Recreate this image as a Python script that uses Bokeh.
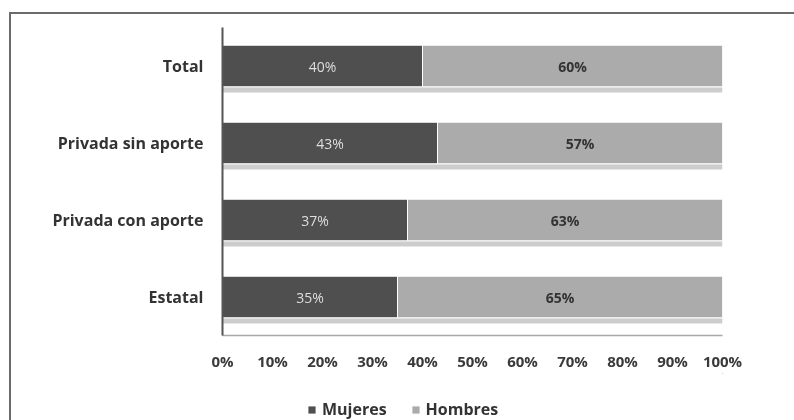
from bokeh.plotting import figure
from bokeh.layouts import column
from bokeh.models import (ColumnDataSource, Legend, LegendItem, FixedTicker,
                          Range1d, FactorRange)
from bokeh.transform import dodge
from bokeh.core.properties import value
from bokeh.embed import file_html
from bokeh.resources import INLINE

# ---- data (bottom to top) ----
categories = ["Estatal", "Privada con aporte", "Privada sin aporte", "Total"]
mujeres = [35, 37, 43, 40]
hombres = [65, 63, 57, 60]
series_names = ["Mujeres", "Hombres"]
x_ticks = [0, 10, 20, 30, 40, 50, 60, 70, 80, 90, 100]

FONT_NAME = "Open Sans"
FONT = value(FONT_NAME)
DARK = "#4f4f4f"
LIGHT = "#ababab"

totals = [m + h for m, h in zip(mujeres, hombres)]
src = ColumnDataSource(dict(
    cat=categories,
    muj=mujeres,
    hom=hombres,
    total=totals,
    muj_mid=[m / 2 for m in mujeres],
    hom_mid=[m + h / 2 for m, h in zip(mujeres, hombres)],
    muj_lbl=[f"{m}%" for m in mujeres],
    hom_lbl=[f"{h}%" for h in hombres],
))

p = figure(
    y_range=FactorRange(*categories),
    x_range=Range1d(0, 100),
    frame_width=500, frame_height=308,
    min_border_left=211, min_border_top=13,
    min_border_right=79, min_border_bottom=30,
    output_backend="svg", toolbar_location=None,
    background_fill_color="white", border_fill_color="white",
)

# floor/shadow strip under each bar (3-D look)
p.hbar(y=dodge("cat", -0.31, range=p.y_range), left=0, right="total",
       height=0.07, source=src, fill_color="#cdcdcd", line_color=None)

p.hbar(y="cat", left=0, right="muj", height=0.54, source=src,
       fill_color=DARK, line_color="white", line_width=1)
p.hbar(y="cat", left="muj", right="total", height=0.54, source=src,
       fill_color=LIGHT, line_color="white", line_width=1)

p.text(x="muj_mid", y="cat", text="muj_lbl", source=src,
       text_align="center", text_baseline="middle",
       text_font=FONT, text_font_size="14px", text_color="#dedede")
p.text(x="hom_mid", y="cat", text="hom_lbl", source=src,
       text_align="center", text_baseline="middle",
       text_font=FONT, text_font_size="14px", text_font_style="bold",
       text_color="#333333")

# axes
p.grid.visible = False
p.outline_line_color = None

p.xaxis.ticker = FixedTicker(ticks=x_ticks)
p.xaxis.major_label_overrides = {t: f"{t}%" for t in x_ticks}
p.xaxis.major_tick_line_color = None
p.xaxis.minor_tick_line_color = None
p.xaxis.axis_line_color = "#a8a8a8"
p.xaxis.axis_line_width = 1.5
p.xaxis.major_label_standoff = 9
p.xaxis.major_label_text_font = FONT_NAME
p.xaxis.major_label_text_font_size = "15px"
p.xaxis.major_label_text_font_style = "bold"
p.xaxis.major_label_text_color = "#3a3a3a"

p.yaxis.major_tick_line_color = None
p.yaxis.minor_tick_line_color = None
p.yaxis.axis_line_color = "#555555"
p.yaxis.axis_line_width = 2
p.yaxis.major_label_standoff = 13
p.yaxis.major_label_text_font = FONT_NAME
p.yaxis.major_label_text_font_size = "16px"
p.yaxis.major_label_text_font_style = "bold"
p.yaxis.major_label_text_color = "#333333"

# ---- legend strip (separate figure below the chart) ----
# its ranges keep the series' bars out of view; they only feed the legend swatches
leg = figure(width=790, height=60, x_axis_type=None, y_axis_type=None,
             x_range=Range1d(-3, -2), y_range=Range1d(-3, -2),
             min_border=0, output_backend="svg", toolbar_location=None,
             background_fill_color="white", border_fill_color="white")
leg.grid.visible = False
leg.outline_line_color = None
lm = leg.hbar(y="muj", left=0, right="muj", height=0.5, source=src,
              fill_color=DARK, line_color=None)
lh = leg.hbar(y="hom", left="muj", right="total", height=0.5, source=src,
              fill_color=LIGHT, line_color=None)

legend = Legend(
    items=[LegendItem(label=series_names[0], renderers=[lm]),
           LegendItem(label=series_names[1], renderers=[lh])],
    orientation="horizontal", location=(85, 13),
    padding=0, margin=0, spacing=24,
    glyph_width=9, glyph_height=9, label_standoff=6, label_height=16,
    label_text_font=FONT_NAME, label_text_font_size="16px",
    label_text_font_style="bold", label_text_color="#333333",
    border_line_color=None, background_fill_alpha=0,
)
leg.add_layout(legend)

layout = column(p, leg, spacing=0)
layout.styles = {
    "position": "fixed", "left": "9px", "top": "12px",
    "border-left": "2px solid #6b6b6b", "border-top": "2px solid #6b6b6b",
}

open("out.html", "w").write(file_html(layout, INLINE))
